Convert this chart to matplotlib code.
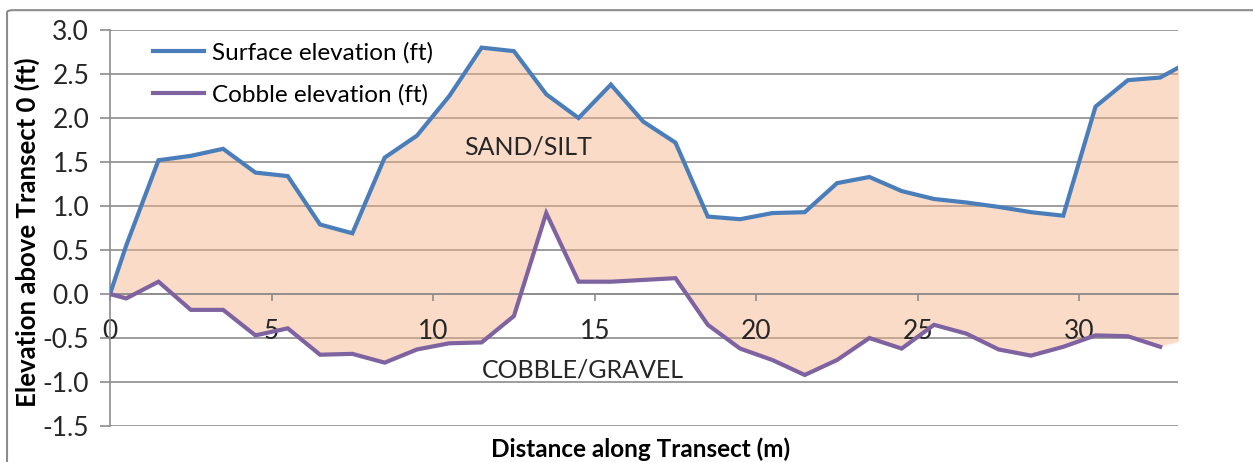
import matplotlib.pyplot as plt
from matplotlib.patches import FancyBboxPatch

plt.rcParams['font.family'] = ['Lato', 'DejaVu Sans']

# transect data
distance = [0, 0.5, 1.5, 2.5, 3.5, 4.5, 5.5, 6.5, 7.5, 8.5, 9.5, 10.5, 11.5, 12.5,
            13.5, 14.5, 15.5, 16.5, 17.5, 18.5, 19.5, 20.5, 21.5, 22.5, 23.5, 24.5,
            25.5, 26.5, 27.5, 28.5, 29.5, 30.5, 31.5, 32.5, 33.5]
surface = [0.0, 0.55, 1.52, 1.57, 1.65, 1.38, 1.34, 0.79, 0.69, 1.55, 1.80, 2.25,
           2.80, 2.76, 2.27, 2.00, 2.38, 1.96, 1.72, 0.88, 0.85, 0.92, 0.93, 1.26,
           1.33, 1.17, 1.08, 1.04, 0.99, 0.93, 0.89, 2.13, 2.43, 2.46, 2.66]
cobble = [0.0, -0.05, 0.14, -0.18, -0.18, -0.47, -0.39, -0.69, -0.68, -0.78, -0.63,
          -0.56, -0.55, -0.25, 0.92, 0.14, 0.14, 0.16, 0.18, -0.35, -0.62, -0.75,
          -0.92, -0.75, -0.50, -0.62, -0.35, -0.45, -0.63, -0.70, -0.60, -0.47,
          -0.48, -0.60, -0.50]
# the cobble line stops one point before the shaded area does
cobble_line_n = 34

yticks = [-1.5, -1.0, -0.5, 0.0, 0.5, 1.0, 1.5, 2.0, 2.5, 3.0]
xticks = [0, 5, 10, 15, 20, 25, 30]

fig = plt.figure(figsize=(12.53, 4.62), dpi=100)
ax = fig.add_axes([0.0878, 0.0779, 0.8523, 0.8571])

grey = '#8c8c8c'
for y in yticks:
    ax.axhline(y, color=grey, lw=1.2, zorder=0)

ax.fill_between(distance, cobble, surface, color='#F4B183', alpha=0.45,
                edgecolor='white', lw=1.5, zorder=1)
ax.plot(distance, surface, color='#4A7EBB', lw=3, label='Surface elevation (ft)',
        zorder=3, solid_joinstyle='miter')
ax.plot(distance[:cobble_line_n], cobble[:cobble_line_n], color='#7F63A1', lw=3,
        label='Cobble elevation (ft)', zorder=3, solid_joinstyle='miter')

ax.set_xlim(0, 33.05)
ax.set_ylim(-1.5, 3.0)
ax.set_yticks(yticks)
ax.set_yticklabels([f'{v:.1f}' for v in yticks])
ax.set_xticks(xticks)

for s in ['top', 'right']:
    ax.spines[s].set_visible(False)
ax.spines['left'].set_color(grey)
ax.spines['left'].set_linewidth(1.2)
ax.spines['bottom'].set_position(('data', 0))
ax.spines['bottom'].set_color(grey)
ax.spines['bottom'].set_linewidth(1.2)

ax.tick_params(axis='y', length=7, width=1.2, color=grey, pad=8,
               labelsize=19, labelcolor='#262626')
ax.tick_params(axis='x', length=5, width=1.2, color=grey, pad=13,
               labelsize=19, labelcolor='#262626')

ax.set_xlabel('Distance along Transect (m)', fontsize=17.5, fontweight='bold')
ax.xaxis.set_label_coords(0.497, -0.03)
ax.set_ylabel('Elevation above Transect 0 (ft)', fontsize=18.5, fontweight='bold')
ax.yaxis.set_label_coords(-0.066, 0.49)

ax.text(12.94, 1.67, 'SAND/SILT', fontsize=18, color='#262626',
        ha='center', va='center', zorder=4)
ax.text(14.64, -0.86, 'COBBLE/GRAVEL', fontsize=18, color='#262626',
        ha='center', va='center', zorder=4)

ax.legend(loc='upper left', bbox_to_anchor=(0.02, 1.025), frameon=False,
          fontsize=17.5, handlelength=2.1, handletextpad=0.3, labelspacing=0.85)

border = FancyBboxPatch((0.0056, -0.2), 1.2, 1.178, transform=fig.transFigure,
                        boxstyle='round,pad=0,rounding_size=0.005',
                        fill=False, edgecolor=grey, lw=1.5, clip_on=False)
fig.patches.append(border)

fig.savefig('out.png', dpi=100)
